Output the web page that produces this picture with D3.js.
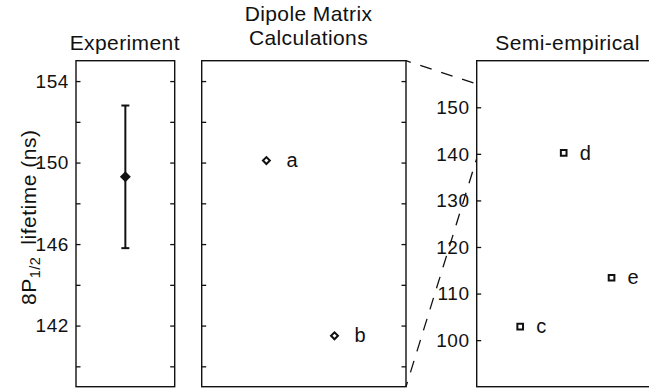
<!DOCTYPE html>
<html>
<head>
<meta charset="utf-8">
<script src="https://cdn.jsdelivr.net/npm/d3@7"></script>
<style>
  html, body { margin: 0; padding: 0; background: #fff; }
  svg { display: block; }
  text { font-family: "Liberation Sans", Arial, Helvetica, sans-serif; fill: #111; }
</style>
</head>
<body>
<svg id="chart" width="649" height="391"></svg>
<script>
// ---- data -------------------------------------------------------------
const experimentLifetime = [149.3];      // ns
const experimentUncertainty = [3.5];     // ns, +/-

const dipoleLabels = ["a", "b"];
const dipolePositions = [1, 2];
const dipoleLifetimes = [150.1, 141.5];  // ns

const semiLabels = ["c", "d", "e"];
const semiPositions = [1, 2, 3.1];
const semiLifetimes = [102.9, 140.2, 113.4]; // ns

const fineTickLabels = [142, 146, 150, 154];
const fineTicks = [140, 142, 144, 146, 148, 150, 152, 154];
const coarseTickLabels = [100, 110, 120, 130, 140, 150];

const fineDomain = [139, 155];
const coarseDomain = [90, 160];

// ---- layout -----------------------------------------------------------
const svg = d3.select("#chart");
const plotTop = 60.7, plotBottom = 386.7;
const tickLen = 4.5;
const ink = "#111";

const p1 = { x0: 76, x1: 174.7 };
const p2 = { x0: 201.7, x1: 406 };
const p3 = { x0: 476.7, x1: 700 };

const yFine = d3.scaleLinear().domain(fineDomain).range([plotBottom, plotTop]);
const yCoarse = d3.scaleLinear().domain(coarseDomain).range([plotBottom, plotTop]);
const x1 = d3.scaleLinear().domain([0, 1]).range([p1.x0, p1.x1]);
const x2 = d3.scaleLinear().domain([0.05, 3.05]).range([p2.x0, p2.x1]);
const x3 = d3.scaleLinear().domain([0, 4.8]).range([p3.x0, p3.x0 + 4.8 * 43.5]);

function frame(p) {
  svg.append("rect")
    .attr("x", p.x0).attr("y", plotTop)
    .attr("width", p.x1 - p.x0).attr("height", plotBottom - plotTop)
    .attr("fill", "none").attr("stroke", ink).attr("stroke-width", 1.4);
}

function inwardTicks(p, scale, ticks, both) {
  const gl = svg.append("g")
    .attr("transform", `translate(${p.x0},0)`)
    .call(d3.axisRight(scale).tickValues(ticks).tickSize(tickLen).tickFormat(""));
  gl.select(".domain").remove();
  gl.selectAll("line").attr("stroke", ink).attr("stroke-width", 1.3);
  if (both) {
    const gr = svg.append("g")
      .attr("transform", `translate(${p.x1},0)`)
      .call(d3.axisLeft(scale).tickValues(ticks).tickSize(tickLen).tickFormat(""));
    gr.select(".domain").remove();
    gr.selectAll("line").attr("stroke", ink).attr("stroke-width", 1.3);
  }
}

function tickText(p, scale, values) {
  svg.append("g").selectAll("text").data(values).join("text")
    .attr("x", p.x0 - 7)
    .attr("y", d => scale(d))
    .attr("dy", "0.36em")
    .attr("text-anchor", "end")
    .attr("font-size", 19)
    .attr("letter-spacing", 0.6)
    .text(d => d);
}

// ---- panel frames, ticks and labels ----------------------------------
frame(p1); frame(p2); frame(p3);
inwardTicks(p1, yFine, fineTicks, true);
inwardTicks(p2, yFine, fineTicks, true);
inwardTicks(p3, yCoarse, coarseTickLabels, false);
tickText(p1, yFine, fineTickLabels);
tickText(p3, yCoarse, coarseTickLabels);

// ---- titles -------------------------------------------------------------
const titleSize = 21;
svg.append("text").attr("x", 124.8).attr("y", 50)
  .attr("text-anchor", "middle").attr("font-size", titleSize)
  .attr("letter-spacing", 0.4).text("Experiment");
svg.append("text").attr("x", 308.5).attr("y", 21)
  .attr("text-anchor", "middle").attr("font-size", titleSize)
  .attr("letter-spacing", 0.4).text("Dipole Matrix");
svg.append("text").attr("x", 308.5).attr("y", 45)
  .attr("text-anchor", "middle").attr("font-size", titleSize)
  .attr("letter-spacing", 0.4).text("Calculations");
svg.append("text").attr("x", 567.5).attr("y", 49.5)
  .attr("text-anchor", "middle").attr("font-size", titleSize)
  .attr("letter-spacing", 0.4).text("Semi-empirical");

// ---- y axis label -----------------------------------------------------
const yLab = svg.append("text")
  .attr("transform", "translate(35.5,305) rotate(-90)")
  .attr("font-size", 21)
  .attr("letter-spacing", 0.5);
yLab.append("tspan").text("8P");
yLab.append("tspan").attr("font-size", 14.5).attr("dy", 4).text("1/2");
yLab.append("tspan").attr("dy", -4).attr("dx", 12).text("lifetime (ns)");

// ---- experiment: value with error bar ---------------------------------
const ex = x1(0.5);
const eg = svg.append("g");
experimentLifetime.forEach((v, i) => {
  const err = experimentUncertainty[i];
  eg.append("line")
    .attr("x1", ex).attr("x2", ex)
    .attr("y1", yFine(v - err)).attr("y2", yFine(v + err))
    .attr("stroke", ink).attr("stroke-width", 2);
  [v - err, v + err].forEach(e => {
    eg.append("line")
      .attr("x1", ex - 4).attr("x2", ex + 4)
      .attr("y1", yFine(e)).attr("y2", yFine(e))
      .attr("stroke", ink).attr("stroke-width", 2);
  });
  eg.append("path")
    .attr("d", d3.symbol(d3.symbolSquare, 60)())
    .attr("transform", `translate(${ex},${yFine(v)}) rotate(45)`)
    .attr("fill", ink);
});

// ---- dipole-matrix values (open diamonds) -----------------------------
const dipole = dipoleLabels.map((l, i) => ({ l, x: dipolePositions[i], v: dipoleLifetimes[i] }));
svg.append("g").selectAll("path").data(dipole).join("path")
  .attr("d", d3.symbol(d3.symbolSquare, 24)())
  .attr("transform", d => `translate(${x2(d.x)},${yFine(d.v)}) rotate(45)`)
  .attr("fill", "#fff").attr("stroke", ink).attr("stroke-width", 2);
svg.append("g").selectAll("text").data(dipole).join("text")
  .attr("x", d => x2(d.x) + 20)
  .attr("y", d => yFine(d.v))
  .attr("dy", "0.33em")
  .attr("font-size", 20)
  .text(d => d.l);

// ---- semi-empirical values (open squares) -----------------------------
const semi = semiLabels.map((l, i) => ({ l, x: semiPositions[i], v: semiLifetimes[i] }));
svg.append("g").selectAll("path").data(semi).join("path")
  .attr("d", d3.symbol(d3.symbolSquare, 32)())
  .attr("transform", d => `translate(${x3(d.x)},${yCoarse(d.v)})`)
  .attr("fill", "#fff").attr("stroke", ink).attr("stroke-width", 2);
svg.append("g").selectAll("text").data(semi).join("text")
  .attr("x", d => x3(d.x) + 16)
  .attr("y", d => yCoarse(d.v))
  .attr("dy", "0.33em")
  .attr("font-size", 20)
  .text(d => d.l);

// ---- zoom guides: fine range shown on the coarse axis -----------------
svg.append("g").selectAll("line").data(fineDomain).join("line")
  .attr("x1", p2.x1).attr("y1", d => yFine(d))
  .attr("x2", p3.x0).attr("y2", d => yCoarse(d))
  .attr("stroke", ink).attr("stroke-width", 1.3)
  .attr("stroke-dasharray", "12,10")
  .attr("stroke-dashoffset", 7);
</script>
</body>
</html>
